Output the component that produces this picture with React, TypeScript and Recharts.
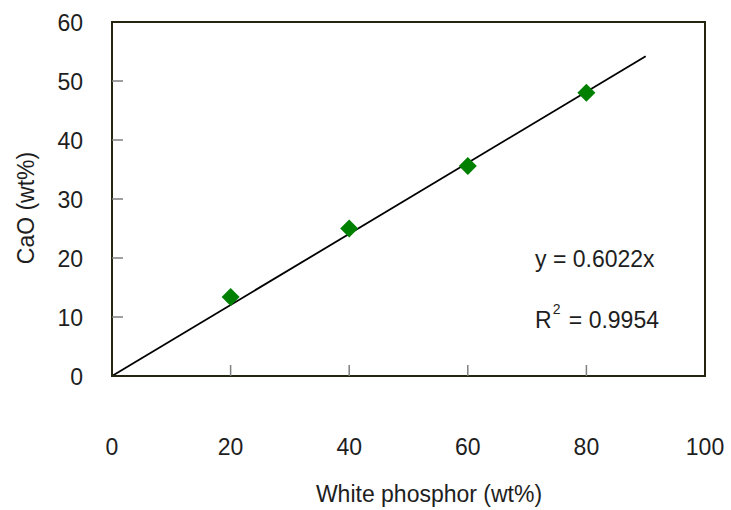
import React from 'react';
import { ComposedChart, XAxis, YAxis, Scatter, ReferenceLine, ReferenceArea } from 'recharts';

// measured samples
const phosphor = [20, 40, 60, 80];
const cao = [13.4, 25.0, 35.6, 48.0];

// linear fit through origin
const slope = 0.6022;
const r2 = 0.9954;
const fitRange = [0, 90];

const xTicks = [0, 20, 40, 60, 80, 100];
const yTicks = [0, 10, 20, 30, 40, 50, 60];

const points = phosphor.map((x, i) => ({ x, y: cao[i] }));
const fitLine = fitRange.map((x) => ({ x, y: x * slope }));

const FONT = '"Liberation Sans", Arial, sans-serif';
const TEXT = '#1e1e1e';
const AXIS = '#24240f';
const TICK = '#7f7f7f';

const XTick = (props: any) => {
  const { x, y, payload } = props;
  const v = payload.value;
  return (
    <g>
      {v > 0 && v < 100 && <line x1={x} x2={x} y1={y} y2={y - 11} stroke={TICK} strokeWidth={1.5} />}
      <text x={x} y={y + 79} textAnchor="middle" fontSize={23} fontFamily={FONT} fill={TEXT}>
        {v}
      </text>
    </g>
  );
};

const YTick = (props: any) => {
  const { x, y, payload } = props;
  const v = payload.value;
  return (
    <g>
      {v > 0 && v < 60 && <line x1={x} x2={x + 11} y1={y} y2={y} stroke={TICK} strokeWidth={1.5} />}
      <text x={x - 29} y={y + 9} textAnchor="end" fontSize={23} fontFamily={FONT} fill={TEXT}>
        {v}
      </text>
    </g>
  );
};

const Diamond = (props: any) => {
  const { cx, cy } = props;
  const r = 9;
  return <path d={`M${cx},${cy - r}L${cx + r},${cy}L${cx},${cy + r}L${cx - r},${cy}Z`} fill="#008000" />;
};

export default function App() {
  return (
    <div style={{ position: 'absolute', left: 0, top: 0, width: 731, height: 510, background: '#fff' }}>
      <ComposedChart
        width={731}
        height={510}
        data={points}
        margin={{ top: 22, right: 26, left: 12, bottom: 0 }}
      >
        <XAxis
          type="number"
          dataKey="x"
          domain={[0, 100]}
          ticks={xTicks}
          height={134}
          tickLine={false}
          tickSize={0}
          tickMargin={0}
          axisLine={{ stroke: AXIS, strokeWidth: 2 }}
          tick={<XTick />}
          interval={0}
        />
        <YAxis
          type="number"
          dataKey="y"
          domain={[0, 60]}
          ticks={yTicks}
          width={100}
          tickLine={false}
          tickSize={0}
          tickMargin={0}
          axisLine={{ stroke: AXIS, strokeWidth: 2 }}
          tick={<YTick />}
          interval={0}
        />
        <ReferenceArea x1={0} x2={100} y1={0} y2={60} fill="none" stroke={AXIS} strokeWidth={2} />
        <ReferenceLine
          segment={[fitLine[0], fitLine[1]]}
          stroke="#000"
          strokeWidth={1.8}
        />
        <Scatter dataKey="y" shape={<Diamond />} isAnimationActive={false} />
      </ComposedChart>
      <svg width={731} height={510} style={{ position: 'absolute', left: 0, top: 0, pointerEvents: 'none' }}>
        <text x={535} y={267} fontSize={23} fontFamily={FONT} fill={TEXT}>
          {`y = ${slope}x`}
        </text>
        <text x={535} y={328} fontSize={23} fontFamily={FONT} fill={TEXT}>
          R
          <tspan dx={1} dy={-14} fontSize={14}>2</tspan>
          <tspan dx={2} dy={14}>{` = ${r2}`}</tspan>
        </text>
        <text x={429} y={502} textAnchor="middle" fontSize={23} fontFamily={FONT} fill={TEXT}>
          White phosphor (wt%)
        </text>
        <text
          x={0}
          y={0}
          transform="translate(34,208) rotate(-90)"
          textAnchor="middle"
          fontSize={23}
          fontFamily={FONT}
          fill={TEXT}
        >
          CaO (wt%)
        </text>
      </svg>
    </div>
  );
}
